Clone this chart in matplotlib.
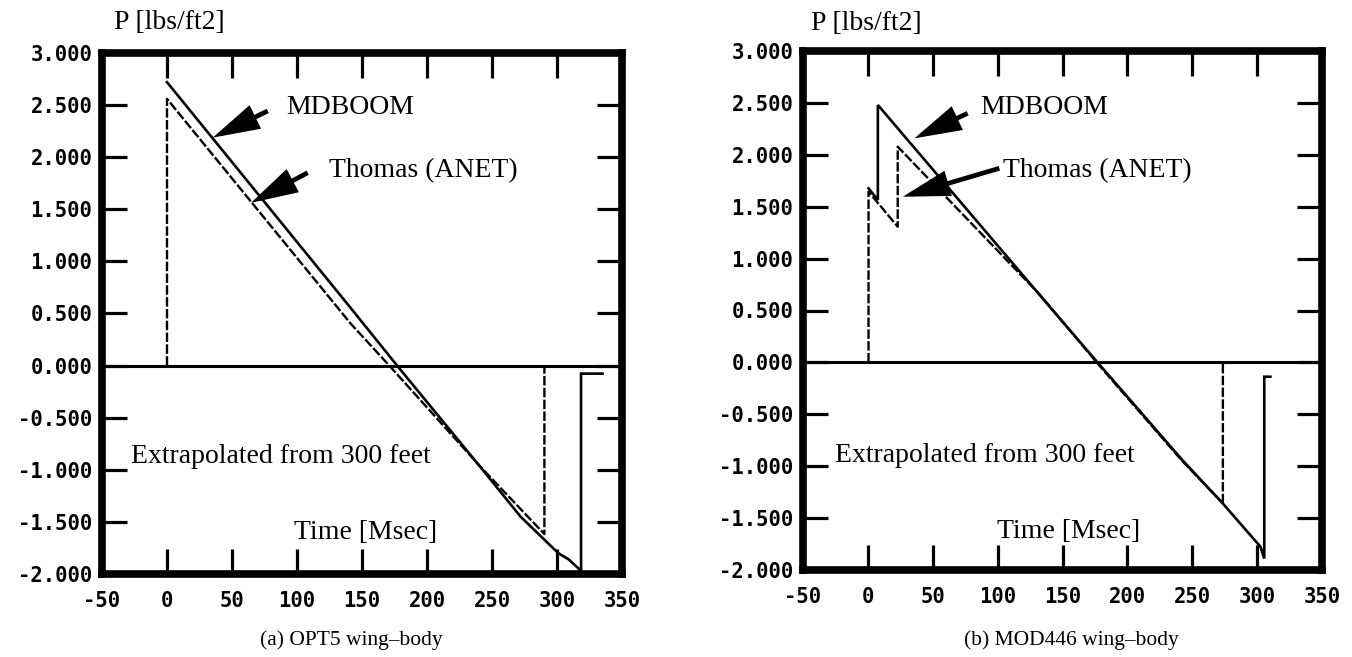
import matplotlib
matplotlib.use("Agg")
import matplotlib.pyplot as plt
from matplotlib.patches import FancyArrowPatch

W, H, DPI = 1352, 657, 100

# Axis ticks
x_ticks = [-50, 0, 50, 100, 150, 200, 250, 300, 350]
x_tick_labels = ["-50", "0", "50", "100", "150", "200", "250", "300", "350"]
y_ticks = [3.0, 2.5, 2.0, 1.5, 1.0, 0.5, 0.0, -0.5, -1.0, -1.5, -2.0]
y_tick_labels = ["3.000", "2.500", "2.000", "1.500", "1.000", "0.500",
                 "0.000", "-0.500", "-1.000", "-1.500", "-2.000"]

# (a) OPT5 wing-body signatures: time [ms], pressure [lbs/ft2]
opt5_mdboom_t = [0.0, 141.5, 177.0, 241.5, 272.0, 301.0, 309.0, 318.5, 318.5, 335.0]
opt5_mdboom_p = [2.72, 0.55, 0.0, -0.98, -1.45, -1.80, -1.86, -1.97, -0.077, -0.077]
opt5_thomas_t = [0.0, 0.0, 141.5, 171.0, 241.5, 290.3, 290.3]
opt5_thomas_p = [0.0, 2.56, 0.40, 0.0, -0.976, -1.617, 0.0]

# (b) MOD446 wing-body signatures
mod446_mdboom_t = [0.5, 7.7, 7.7, 142.3, 177.0, 242.3, 273.6, 302.6, 305.5, 305.5, 310.2]
mod446_mdboom_p = [1.677, 1.565, 2.48, 0.505, 0.0, -0.94, -1.36, -1.776, -1.89, -0.138, -0.138]
mod446_thomas_t = [0.5, 0.5, 23.0, 23.0, 132.0, 177.0, 242.3, 273.6, 273.6]
mod446_thomas_p = [0.0, 1.645, 1.307, 2.078, 0.66, -0.01, -0.95, -1.357, 0.0]

SERIF = "Liberation Serif"
MONO = "DejaVu Sans Mono"

fig = plt.figure(figsize=(W / DPI, H / DPI), dpi=DPI)
fig.patch.set_facecolor("white")


def axes_px(x0, x1, ytop, ybot):
    return fig.add_axes([x0 / W, 1 - ybot / H, (x1 - x0) / W, (ybot - ytop) / H])


def arrow(ax, tail, tip):
    ax.add_patch(FancyArrowPatch(
        tail, tip, arrowstyle="-|>,head_length=1.3,head_width=0.36",
        mutation_scale=20, lw=3.4, color="black", shrinkA=0, shrinkB=0,
        joinstyle="miter", capstyle="butt", zorder=5))


def panel(ax, md_t, md_p, th_t, th_p):
    ax.set_xlim(-50, 350)
    ax.set_ylim(-2.0, 3.0)
    ax.set_xticks(x_ticks)
    ax.set_xticklabels(x_tick_labels)
    ax.set_yticks(y_ticks)
    ax.set_yticklabels(y_tick_labels)
    ax.tick_params(direction="in", length=18, width=2.3, top=True, right=True,
                   colors="black")
    ax.tick_params(axis="y", pad=7)
    ax.tick_params(axis="x", pad=12)
    for lbl in ax.get_xticklabels() + ax.get_yticklabels():
        lbl.set_fontfamily(MONO)
        lbl.set_fontweight("bold")
        lbl.set_fontsize(14.8)
    for sp in ax.spines.values():
        sp.set_linewidth(5.5)
        sp.set_capstyle("projecting")
    ax.axhline(0.0, color="black", lw=2.2, zorder=2)
    ax.plot(md_t, md_p, color="black", lw=1.9, solid_joinstyle="miter", zorder=3)
    ax.plot(th_t, th_p, color="black", lw=1.7, linestyle=(0, (4.0, 1.0)), zorder=3)


ax1 = axes_px(102, 622, 53, 574)
panel(ax1, opt5_mdboom_t, opt5_mdboom_p, opt5_thomas_t, opt5_thomas_p)
ax2 = axes_px(803, 1322, 51, 570)
panel(ax2, mod446_mdboom_t, mod446_mdboom_p, mod446_thomas_t, mod446_thomas_p)

txt = dict(fontfamily=SERIF, fontsize=20, ha="left", va="baseline", clip_on=False)

# Left panel labels
ax1.text(-40.8, 3.23, "P [lbs/ft2]", **txt)
ax1.text(91.5, 2.41, "MDBOOM", **txt)
ax1.text(124.6, 1.805, "Thomas (ANET)", **txt)
ax1.text(-27.7, -0.93, "Extrapolated from 300 feet", **txt)
ax1.text(97.7, -1.663, "Time [Msec]", **txt)
arrow(ax1, (77.5, 2.444), (35.2, 2.188))
arrow(ax1, (108.2, 1.851), (64.6, 1.562))

# Right panel labels
ax2.text(-43.8, 3.20, "P [lbs/ft2]", **txt)
ax2.text(86.2, 2.39, "MDBOOM", **txt)
ax2.text(103.8, 1.786, "Thomas (ANET)", **txt)
ax2.text(-25.4, -0.96, "Extrapolated from 300 feet", **txt)
ax2.text(99.2, -1.69, "Time [Msec]", **txt)
arrow(ax2, (76.9, 2.40), (35.9, 2.159))
arrow(ax2, (101.3, 1.87), (26.9, 1.596))

# Captions
fig.text(351 / W, 1 - 645 / H, "(a) OPT5 wing\u2013body", fontfamily=SERIF,
         fontsize=15.5, ha="center", va="baseline")
fig.text(1071 / W, 1 - 645 / H, "(b) MOD446 wing\u2013body", fontfamily=SERIF,
         fontsize=15.5, ha="center", va="baseline")

fig.savefig("out.png", dpi=DPI, facecolor="white")
